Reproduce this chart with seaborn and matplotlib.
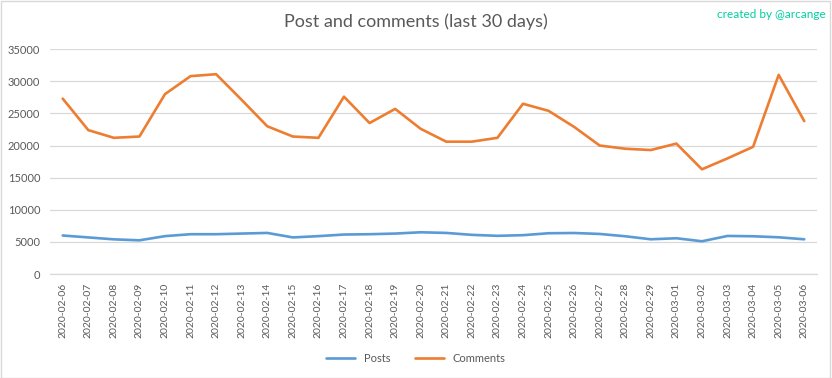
import pandas as pd
import matplotlib.pyplot as plt
import seaborn as sns
from matplotlib.patches import Rectangle

# values
dates = ['2020-02-06', '2020-02-07', '2020-02-08', '2020-02-09', '2020-02-10',
         '2020-02-11', '2020-02-12', '2020-02-13', '2020-02-14', '2020-02-15',
         '2020-02-16', '2020-02-17', '2020-02-18', '2020-02-19', '2020-02-20',
         '2020-02-21', '2020-02-22', '2020-02-23', '2020-02-24', '2020-02-25',
         '2020-02-26', '2020-02-27', '2020-02-28', '2020-02-29', '2020-03-01',
         '2020-03-02', '2020-03-03', '2020-03-04', '2020-03-05', '2020-03-06']
posts = [6000, 5700, 5400, 5250, 5900, 6200, 6200, 6300, 6400, 5700,
         5900, 6150, 6200, 6300, 6500, 6400, 6100, 5950, 6050, 6350,
         6390, 6240, 5880, 5410, 5570, 5100, 5930, 5880, 5720, 5410]
comments = [27300, 22400, 21200, 21400, 28000, 30800, 31100, 27100, 23000, 21400,
            21200, 27600, 23500, 25700, 22600, 20600, 20600, 21200, 26500, 25400,
            22900, 20000, 19500, 19300, 20300, 16300, 18000, 19800, 31000, 23800]

df = pd.DataFrame({
    'date': dates * 2,
    'value': posts + comments,
    'series': ['Posts'] * len(dates) + ['Comments'] * len(dates),
})

sns.set_theme(style="white")
plt.rcParams['font.family'] = ['Lato', 'DejaVu Sans']

fig = plt.figure(figsize=(8.32, 3.78), dpi=100)
ax = fig.add_axes([0.060, 0.275, 0.922, 0.595])

sns.lineplot(data=df, x='date', y='value', hue='series', sort=False,
             palette={'Posts': '#5B9BD5', 'Comments': '#ED7D31'},
             linewidth=1.9, ax=ax)

ax.set_xlim(-0.5, len(dates) - 0.5)
ax.set_ylim(0, 35000)
ax.set_yticks(range(0, 35001, 5000))
ax.grid(axis='y', color='#D9D9D9', linewidth=0.9)
ax.set_axisbelow(True)
for s in ['top', 'right', 'left']:
    ax.spines[s].set_visible(False)
ax.spines['bottom'].set_color('#D9D9D9')
ax.spines['bottom'].set_linewidth(0.9)
ax.tick_params(axis='both', length=0, colors='#595959', labelsize=8)
ax.tick_params(axis='x', labelrotation=90, labelsize=7.5, pad=6)
ax.tick_params(axis='y', pad=7)
ax.set_xlabel('')
ax.set_ylabel('')

ax.legend(loc='lower center', bbox_to_anchor=(0.5, 0.01), bbox_transform=fig.transFigure,
          ncol=2, frameon=False, fontsize=8, handlelength=2.6, columnspacing=2.2,
          labelcolor='#595959')

fig.text(0.5, 0.942, 'Post and comments (last 30 days)', ha='center', va='center',
         fontsize=13, color='#595959')
fig.text(0.993, 0.962, 'created by @arcange', ha='right', va='center',
         fontsize=8.5, color='#00D0A0')
fig.patches.append(Rectangle((0.001, 0.001), 0.997, 0.996, transform=fig.transFigure,
                             fill=False, edgecolor='#D9D9D9', linewidth=1))

plt.savefig('out.png', dpi=100)
